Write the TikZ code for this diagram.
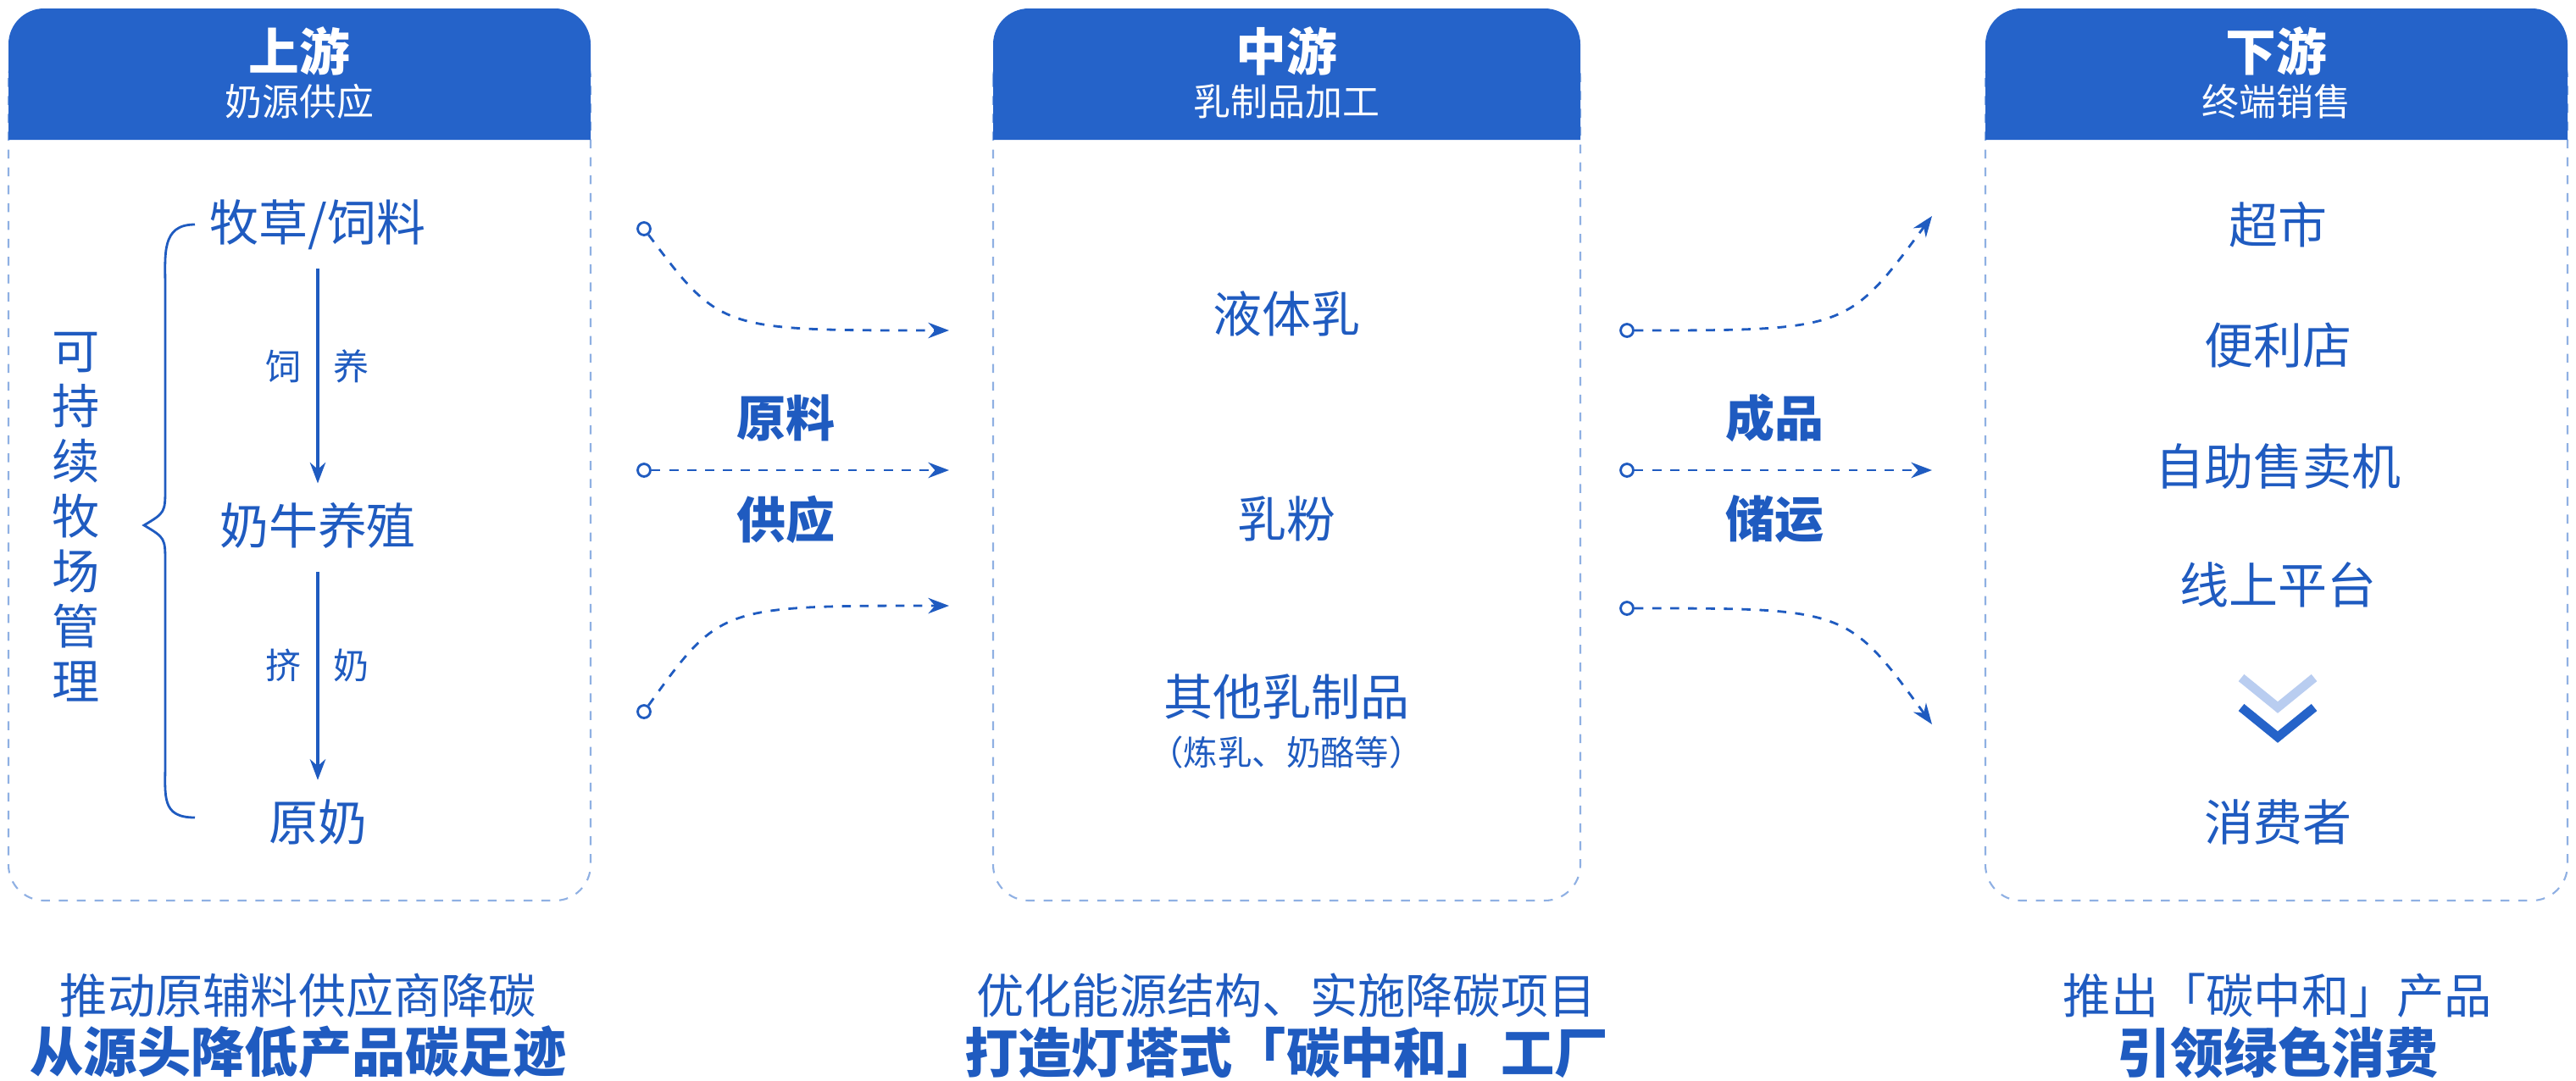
\documentclass[tikz,border=0pt]{standalone}
\usepackage{fontspec}
\setmainfont{Noto Sans CJK SC}
\usetikzlibrary{arrows.meta}
\definecolor{hdblue}{HTML}{2563C9}
\definecolor{txblue}{HTML}{1F5BC0}
\definecolor{lnblue}{HTML}{8FB0E3}
\definecolor{chlight}{HTML}{B9CDF0}
\tikzset{
  item/.style={text=txblue, font=\fontsize{16.5}{19}\selectfont},
  small/.style={text=txblue, font=\fontsize{12}{14}\selectfont},
  note/.style={text=txblue, font=\fontsize{16}{19}\selectfont},
  boldnote/.style={text=txblue, font=\bfseries\fontsize{18}{21}\selectfont},
  tag/.style={text=txblue, font=\bfseries\fontsize{16.5}{19}\selectfont},
  flow/.style={draw=txblue, dashed, line width=0.8pt, -{Stealth[length=7pt]}},
  port/.style={circle, draw=txblue, fill=white, line width=0.8pt, inner sep=1.5pt},
}
\newcommand{\stagebox}[4]{%
  \draw[lnblue, dashed, line width=0.6pt, rounded corners=12pt] (#1,-0.5) rectangle (#2,-10.63);
  \fill[hdblue] (#1,-1.65) [rounded corners=12pt] -- (#1,-0.1) -- (#2,-0.1) [sharp corners] -- (#2,-1.65) -- cycle;
  \node[text=white, font=\bfseries\fontsize{17}{20}\selectfont] at ({(#1+#2)/2},-0.6) {#3};
  \node[text=white, font=\fontsize{12.5}{15}\selectfont] at ({(#1+#2)/2},-1.2) {#4};
}
\begin{document}
\begin{tikzpicture}
  \useasboundingbox (0,0) rectangle (30.4,-12.75);
  \stagebox{0.1}{6.97}{上游}{奶源供应}
  \stagebox{11.72}{18.65}{中游}{乳制品加工}
  \stagebox{23.43}{30.3}{下游}{终端销售}

  % upstream
  \node at (3.75,-2.65) [item] (Feed) {牧草/饲料};
  \node at (3.75,-6.2) [item] (Cow) {奶牛养殖};
  \node at (3.75,-9.7) [item] (Raw) {原奶};
  \node at (3.35,-4.32) [small] (FeedA) {饲};
  \node at (4.15,-4.32) [small] (FeedB) {养};
  \node at (3.35,-7.85) [small] (MilkA) {挤};
  \node at (4.15,-7.85) [small] (MilkB) {奶};
  \draw[txblue, line width=0.9pt, -{Stealth[length=7pt]}] (Feed.south) ++(0,-0.1) -- ([yshift=0.1cm]Cow.north);
  \draw[txblue, line width=0.9pt, -{Stealth[length=7pt]}] (Cow.south) ++(0,-0.15) -- ([yshift=0.1cm]Raw.north);
  \draw[txblue, line width=0.8pt] (2.3,-2.65) .. controls (1.9,-2.65) and (1.95,-3) .. (1.95,-3.4)
    -- (1.95,-5.75) .. controls (1.95,-6.05) .. (1.7,-6.2) .. controls (1.95,-6.35) .. (1.95,-6.65)
    -- (1.95,-9.0) .. controls (1.95,-9.4) and (1.9,-9.65) .. (2.3,-9.65);
  \node at (0.9,-6.1) [item, align=center, font=\fontsize{16}{18.5}\selectfont] (Mgmt) {可\\持\\续\\牧\\场\\管\\理};

  % midstream
  \node at (15.18,-3.7) [item] (Liquid) {液体乳};
  \node at (15.18,-6.12) [item] (Powder) {乳粉};
  \node at (15.18,-8.22) [item] (Other) {其他乳制品};
  \node at (15.18,-8.88) [small, font=\fontsize{11.5}{14}\selectfont] (OtherSub) {（炼乳、奶酪等）};

  % downstream
  \node at (26.88,-2.65) [item] (Market) {超市};
  \node at (26.88,-4.08) [item] (Store) {便利店};
  \node at (26.88,-5.5) [item] (Vending) {自助售卖机};
  \node at (26.88,-6.9) [item] (Online) {线上平台};
  \node at (26.88,-9.7) [item] (Consumer) {消费者};
  \draw[chlight, line width=3pt] (26.45,-8.0) -- (26.88,-8.35) -- (27.31,-8.0);
  \draw[hdblue, line width=3pt] (26.45,-8.35) -- (26.88,-8.7) -- (27.31,-8.35);

  % flows
  \node at (7.6,-2.7) [port] (InA) {};
  \node at (7.6,-5.55) [port] (InB) {};
  \node at (7.6,-8.4) [port] (InC) {};
  \coordinate (InAe) at (11.2,-3.9);
  \coordinate (InBe) at (11.2,-5.55);
  \coordinate (InCe) at (11.2,-7.15);
  \draw[flow] (InA) .. controls (8.5,-3.9) .. (InAe);
  \draw[flow] (InB) -- (InBe);
  \draw[flow] (InC) .. controls (8.5,-7.15) .. (InCe);
  \node at (9.27,-4.93) [tag] (LabA) {原料};
  \node at (9.27,-6.13) [tag] (LabB) {供应};

  \node at (19.2,-3.9) [port] (OutA) {};
  \node at (19.2,-5.55) [port] (OutB) {};
  \node at (19.2,-7.18) [port] (OutC) {};
  \coordinate (OutAe) at (22.8,-2.55);
  \coordinate (OutBe) at (22.8,-5.55);
  \coordinate (OutCe) at (22.8,-8.55);
  \draw[flow] (OutA) .. controls (21.8,-3.9) .. (OutAe);
  \draw[flow] (OutB) -- (OutBe);
  \draw[flow] (OutC) .. controls (21.8,-7.18) .. (OutCe);
  \node at (20.94,-4.93) [tag] (LabC) {成品};
  \node at (20.94,-6.13) [tag] (LabD) {储运};

  % bottom notes
  \node at (3.52,-11.75) [note] (NoteA) {推动原辅料供应商降碳};
  \node at (3.52,-12.42) [boldnote] (NoteB) {从源头降低产品碳足迹};
  \node at (15.18,-11.75) [note] (NoteC) {优化能源结构、实施降碳项目};
  \node at (15.18,-12.42) [boldnote] (NoteD) {打造灯塔式「碳中和」工厂};
  \node at (26.88,-11.75) [note] (NoteE) {推出「碳中和」产品};
  \node at (26.88,-12.42) [boldnote] (NoteF) {引领绿色消费};
\end{tikzpicture}
\end{document}
